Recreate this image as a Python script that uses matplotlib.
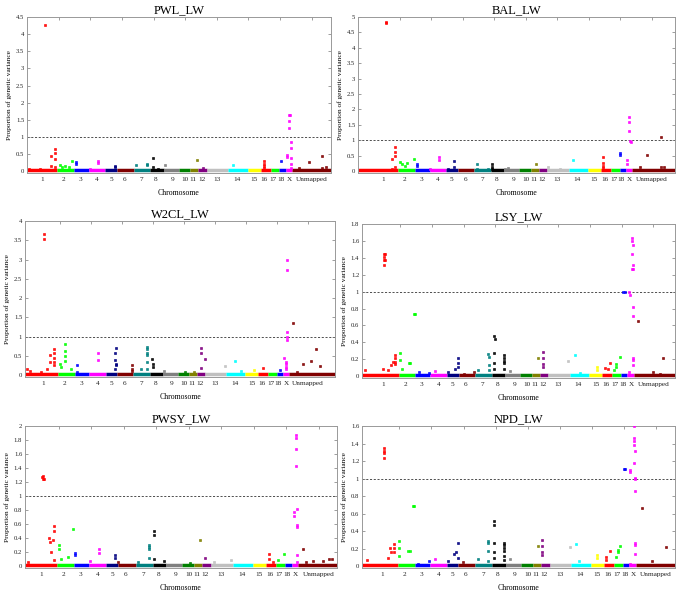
import numpy as np
import matplotlib
matplotlib.use("Agg")
import matplotlib.pyplot as plt
from matplotlib.ticker import FormatStrFormatter, MultipleLocator

plt.rcParams['font.family'] = ['Liberation Serif', 'DejaVu Serif']

# ---------------- data ----------------
chrom_labels = ['1', '2', '3', '4', '5', '6', '7', '8', '9', '10', '11', '12',
                '13', '14', '15', '16', '17', '18', 'X', 'Unmapped']
# cumulative genomic position (plot units) where each chromosome starts
chrom_starts = [0, 90, 140, 185, 235, 270, 320, 370, 410, 455, 490, 514,
                540, 604, 663, 702, 732, 758, 777, 796]
# position of each chromosome label on the axis
label_pos = [45, 110, 160, 210, 252, 292, 343, 387, 437, 475, 498, 524,
             570, 630, 682, 713, 740, 763, 788, 855]
chrom_colors = ['#FF0000', '#00FF00', '#0000FF', '#FF00FF', '#000080', '#800000',
                '#008080', '#000000', '#808080', '#008000', '#808000', '#800080',
                '#C0C0C0', '#00FFFF', '#FFFF00', '#FF0000', '#00FF00', '#0000FF',
                '#FF00FF', '#800000']

titles = ['PWL_LW', 'BAL_LW', 'W2CL_LW', 'LSY_LW', 'PWSY_LW', 'NPD_LW']
y_max = [4.5, 5, 4, 1.8, 2, 1.6]
y_step = [0.5, 0.5, 0.5, 0.2, 0.2, 0.2]
x_range = [(0, 913), (-31, 925), (-12, 937), (-20, 920), (-3, 909), (-16, 912)]
threshold = 1.0

# (cumulative position, proportion of genetic variance)
pwl_points = [(5, 0.07), (40, 0.05), (53, 4.28), (72, 0.43), (72, 0.16), (83, 0.65), (83, 0.52),
              (83, 0.36), (83, 0.12), (98, 0.19), (105, 0.12), (115, 0.16), (125, 0.12), (136, 0.31),
              (148, 0.26), (148, 0.21), (190, 0.07), (213, 0.29), (213, 0.24), (263, 0.16), (263, 0.12),
              (328, 0.18), (360, 0.21), (360, 0.19), (377, 0.38), (377, 0.12), (392, 0.07), (413, 0.18),
              (510, 0.34), (530, 0.09), (620, 0.18), (713, 0.31), (713, 0.21), (713, 0.15), (713, 0.09),
              (763, 0.29), (788, 1.65), (790, 1.63), (788, 1.47), (788, 1.25), (792, 0.86), (792, 0.68),
              (781, 0.47), (781, 0.41), (792, 0.37), (792, 0.22), (792, 0.10), (817, 0.09), (848, 0.26),
              (887, 0.45), (885, 0.09), (898, 0.11)]
bal_points = [(52, 4.85), (52, 4.79), (-20, 0.04), (72, 0.40), (82, 0.78), (82, 0.62), (82, 0.48),
              (72, 0.08), (82, 0.13), (97, 0.29), (102, 0.24), (117, 0.26), (112, 0.18), (137, 0.40),
              (146, 0.24), (146, 0.16), (212, 0.46), (212, 0.35), (187, 0.08), (260, 0.33), (260, 0.13),
              (240, 0.08), (280, 0.04), (327, 0.24), (327, 0.08), (360, 0.08), (374, 0.24), (374, 0.15),
              (374, 0.08), (412, 0.08), (422, 0.10), (507, 0.22), (542, 0.13), (577, 0.08), (617, 0.37),
              (709, 0.46), (709, 0.27), (709, 0.18), (709, 0.10), (760, 0.59), (760, 0.51), (786, 1.76),
              (786, 1.60), (786, 1.30), (790, 0.98), (792, 0.95), (780, 0.35), (780, 0.24), (819, 0.13),
              (842, 0.51), (884, 1.11), (882, 0.13), (892, 0.13)]
w2cl_points = [(47, 3.67), (47, 3.53), (-5, 0.15), (2, 0.12), (64, 0.34), (66, 0.52), (77, 0.69),
               (77, 0.58), (77, 0.45), (77, 0.34), (77, 0.26), (56, 0.17), (38, 0.09), (111, 0.80),
               (111, 0.62), (111, 0.49), (111, 0.36), (95, 0.30), (97, 0.20), (128, 0.17), (148, 0.26),
               (148, 0.09), (212, 0.58), (212, 0.40), (266, 0.70), (262, 0.58), (262, 0.40), (266, 0.30),
               (266, 0.26), (262, 0.17), (316, 0.26), (316, 0.17), (316, 0.11), (362, 0.73), (362, 0.67),
               (362, 0.58), (362, 0.52), (362, 0.34), (362, 0.17), (343, 0.17), (378, 0.43), (380, 0.30),
               (380, 0.22), (415, 0.10), (478, 0.09), (505, 0.09), (527, 0.71), (527, 0.58), (527, 0.19),
               (538, 0.41), (600, 0.24), (630, 0.36), (648, 0.12), (688, 0.13), (718, 0.19), (770, 0.13),
               (789, 2.99), (789, 2.72), (789, 1.13), (789, 0.98), (789, 0.90), (782, 0.45), (786, 0.35),
               (786, 0.28), (786, 0.20), (786, 0.15), (808, 1.36), (820, 0.09), (840, 0.29), (865, 0.37),
               (880, 0.69), (890, 0.23)]
lsy_points = [(46, 1.45), (46, 1.41), (46, 1.38), (46, 1.32), (50, 1.45), (50, 1.38), (-10, 0.07),
              (58, 0.07), (68, 0.13), (72, 0.17), (80, 0.25), (80, 0.21), (80, 0.17), (80, 0.14),
              (42, 0.08), (135, 0.73), (138, 0.73), (95, 0.28), (95, 0.19), (100, 0.09), (120, 0.15),
              (125, 0.16), (150, 0.05), (182, 0.04), (200, 0.06), (268, 0.22), (268, 0.15), (268, 0.11),
              (260, 0.09), (238, 0.05), (285, 0.03), (315, 0.05), (328, 0.07), (358, 0.26), (360, 0.23),
              (360, 0.13), (360, 0.07), (375, 0.48), (378, 0.44), (375, 0.27), (375, 0.15), (375, 0.09),
              (405, 0.25), (405, 0.22), (405, 0.18), (405, 0.15), (405, 0.09), (425, 0.06), (510, 0.21),
              (523, 0.29), (523, 0.21), (523, 0.14), (523, 0.11), (600, 0.18), (620, 0.25), (635, 0.04),
              (685, 0.11), (685, 0.07), (725, 0.16), (710, 0.10), (720, 0.09), (743, 0.14), (743, 0.11),
              (738, 0.07), (755, 0.23), (765, 0.99), (770, 0.99), (790, 1.63), (790, 1.60), (794, 1.55),
              (792, 1.45), (794, 1.31), (792, 1.27), (795, 1.27), (785, 0.96), (783, 0.99), (794, 0.82),
              (794, 0.71), (794, 0.22), (794, 0.19), (794, 0.13), (783, 0.05), (810, 0.65), (855, 0.05),
              (875, 0.03), (885, 0.21)]
pwsy_points = [(51, 1.25), (51, 1.29), (53, 1.24), (48, 1.28), (68, 0.40), (71, 0.35), (78, 0.38),
               (82, 0.58), (82, 0.50), (73, 0.20), (82, 0.09), (5, 0.06), (97, 0.30), (97, 0.24),
               (137, 0.53), (122, 0.13), (102, 0.11), (144, 0.19), (144, 0.16), (213, 0.25), (213, 0.19),
               (186, 0.08), (260, 0.16), (260, 0.12), (270, 0.06), (358, 0.30), (358, 0.27), (358, 0.24),
               (358, 0.12), (327, 0.06), (373, 0.50), (373, 0.45), (373, 0.11), (403, 0.07), (478, 0.05),
               (508, 0.37), (522, 0.12), (548, 0.06), (600, 0.09), (710, 0.18), (710, 0.11), (722, 0.06),
               (737, 0.09), (755, 0.18), (788, 1.87), (788, 1.83), (788, 1.67), (788, 1.43), (782, 0.78),
               (782, 0.72), (793, 0.82), (793, 0.59), (793, 0.56), (793, 0.16), (793, 0.06), (810, 0.25),
               (818, 0.06), (840, 0.07), (868, 0.07), (885, 0.11), (895, 0.11)]
npd_points = [(48, 1.35), (50, 1.31), (48, 1.29), (48, 1.24), (68, 0.21), (70, 0.16), (80, 0.25),
              (80, 0.21), (80, 0.16), (60, 0.09), (0, 0.07), (95, 0.29), (95, 0.21), (95, 0.12),
              (120, 0.18), (125, 0.17), (135, 0.69), (138, 0.69), (150, 0.03), (182, 0.06), (200, 0.08),
              (238, 0.06), (258, 0.14), (263, 0.16), (268, 0.27), (268, 0.09), (283, 0.05), (328, 0.08),
              (357, 0.29), (357, 0.27), (357, 0.17), (357, 0.06), (374, 0.52), (374, 0.47), (374, 0.27),
              (374, 0.16), (374, 0.10), (406, 0.27), (406, 0.24), (406, 0.21), (406, 0.17), (406, 0.12),
              (406, 0.07), (422, 0.08), (505, 0.23), (517, 0.30), (517, 0.23), (517, 0.16), (517, 0.13),
              (600, 0.22), (617, 0.26), (628, 0.06), (680, 0.13), (680, 0.09), (720, 0.18), (708, 0.11),
              (708, 0.07), (743, 0.19), (743, 0.16), (750, 0.23), (738, 0.11), (760, 1.11), (763, 1.11),
              (791, 1.60), (789, 1.46), (789, 1.43), (791, 1.38), (793, 1.32), (789, 1.18), (780, 1.10),
              (780, 1.08), (793, 1.01), (793, 0.99), (793, 0.86), (793, 0.27), (793, 0.24), (793, 0.14),
              (780, 0.03), (813, 0.67), (845, 0.06), (885, 0.22)]

panel_points = [pwl_points, bal_points, w2cl_points, lsy_points, pwsy_points, npd_points]

# axes boxes in pixels: left, top, right, bottom
W, H = 684, 592
boxes = [(27, 17, 331, 173), (358, 17, 675, 173),
         (25, 221, 335, 377), (362, 224, 675, 378),
         (25, 426, 337, 568), (362, 426, 675, 568)]

fig = plt.figure(figsize=(W / 100, H / 100), dpi=100)
edges = np.array(chrom_starts)

for i in range(6):
    l, t, r, b = boxes[i]
    ax = fig.add_axes([l / W, 1 - b / H, (r - l) / W, (b - t) / H])
    x0, x1 = x_range[i]
    ym = y_max[i]
    ax.set_xlim(x0, x1)
    ax.set_ylim(-0.012 * ym, ym)

    # baseline bands of dense low-value markers per chromosome
    for c in range(len(chrom_labels)):
        s = chrom_starts[c] if c > 0 else x0
        e = chrom_starts[c + 1] if c + 1 < len(chrom_starts) else x1
        ax.plot([s, e], [0.006 * ym, 0.006 * ym], color=chrom_colors[c], lw=2.5,
                solid_capstyle='butt', zorder=2)

    pts = np.array(panel_points[i], dtype=float)
    xs, ys = pts[:, 0], pts[:, 1]
    idx = np.clip(np.searchsorted(edges, xs, side='right') - 1, 0, len(edges) - 1)
    for c in range(len(chrom_labels)):
        m = idx == c
        if m.any():
            ax.plot(xs[m], ys[m], linestyle='none', marker='s', ms=1.9,
                    mfc=chrom_colors[c], mec=chrom_colors[c], mew=0.5, alpha=0.9, zorder=3)

    ax.axhline(threshold, color='#333333', lw=0.6, ls=(0, (2.5, 2)), zorder=1)

    ax.set_xticks(label_pos)
    ax.set_xticklabels(chrom_labels, fontsize=5.2)
    ax.tick_params(axis='x', length=0, pad=3, colors='#222222')
    ax.yaxis.set_major_locator(MultipleLocator(y_step[i]))
    ax.yaxis.set_major_formatter(FormatStrFormatter('%g'))
    ax.tick_params(axis='y', direction='in', length=2.5, width=0.5, labelsize=4.8,
                   right=True, color='#777777', pad=2, labelcolor='#222222')
    top = ax.secondary_xaxis('top')
    top.set_xticks(np.arange(95, x1, 95))
    top.tick_params(direction='in', length=2, width=0.5, color='#777777', labeltop=False)
    top.spines['top'].set_visible(False)
    for sp in ax.spines.values():
        sp.set_color('#999999')
        sp.set_linewidth(0.7)

    ax.set_title(titles[i], fontsize=9, pad=3)
    ax.set_ylabel('Proportion of genetic variance', fontsize=5.3, labelpad=3)
    ax.set_xlabel('Chromosome', fontsize=5.6, labelpad=5)

fig.savefig('out.png', dpi=100, facecolor='white')
